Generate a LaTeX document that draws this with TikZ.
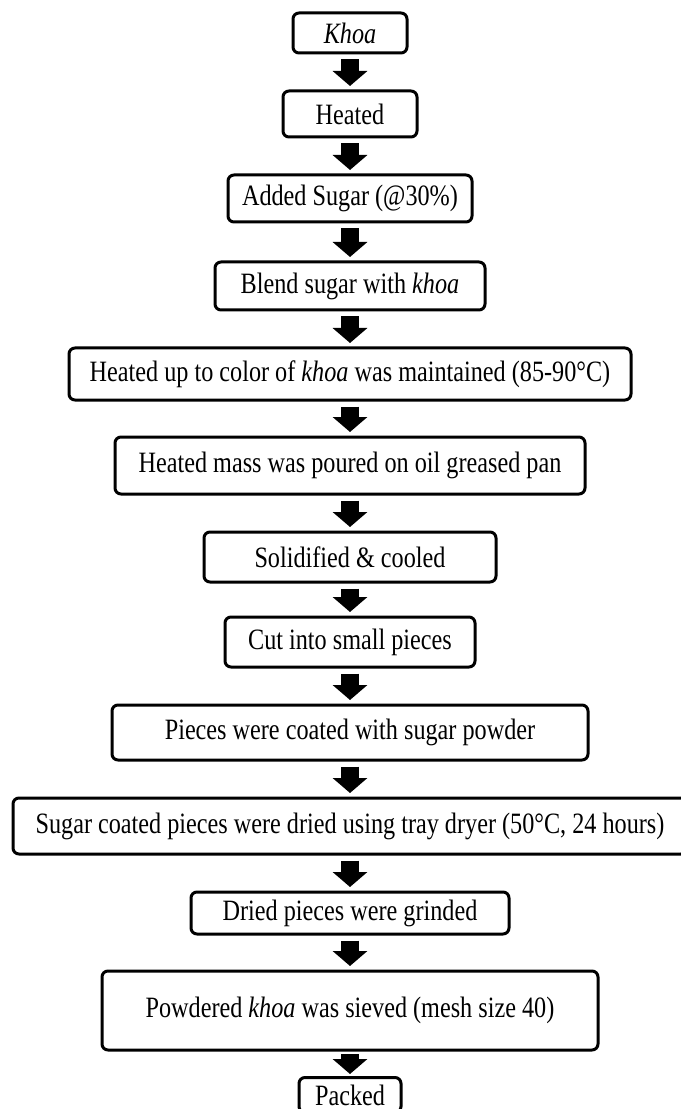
\documentclass[tikz,border=0pt]{standalone}
\usepackage{fontspec}
\setmainfont{Liberation Serif}[FakeStretch=0.82]
\usetikzlibrary{arrows.meta}

\begin{document}
\begin{tikzpicture}[
	stepbox/.style={rectangle,rounded corners=0.12cm,line width=0.06cm,draw=black,align=center,text centered,inner sep=0pt,font=\fontsize{16.8}{20}\selectfont},
	flow/.style={line width=0.36cm,-{Triangle[width=0.68cm,length=0.3cm]},shorten <=0.1cm,shorten >=0.07cm}
	]
					\useasboundingbox (0,0) rectangle (13.6,-22.18);
					\node (khoa)[stepbox,minimum width=2.28cm,minimum height=0.80cm] at (7,-0.66) {\textit{Khoa}};
					\node (heated)[stepbox,minimum width=2.68cm,minimum height=0.92cm] at (7,-2.28) {Heated};
					\node (sugar)[stepbox,minimum width=4.88cm,minimum height=0.94cm] at (7,-3.97) {Added Sugar (@30\%)};
					\node (blend)[stepbox,minimum width=5.40cm,minimum height=0.96cm] at (7,-5.72) {Blend sugar with \textit{khoa}};
					\node (colour)[stepbox,minimum width=11.24cm,minimum height=1.04cm] at (7,-7.48) {Heated up to color of \textit{khoa} was maintained (85-90°C)};
					\node (pour)[stepbox,minimum width=9.40cm,minimum height=1.14cm] at (7,-9.31) {Heated mass was poured on oil greased pan};
					\node (solid)[stepbox,minimum width=5.84cm,minimum height=1.00cm] at (7,-11.14) {Solidified \& cooled};
					\node (cut)[stepbox,minimum width=5.00cm,minimum height=1.00cm] at (7,-12.84) {Cut into small pieces};
					\node (coat)[stepbox,minimum width=9.52cm,minimum height=1.10cm] at (7,-14.65) {Pieces were coated with sugar powder};
					\node (dry)[stepbox,minimum width=13.48cm,minimum height=1.12cm] at (7,-16.52) {Sugar coated pieces were dried using tray dryer (50°C, 24 hours)};
					\node (grind)[stepbox,minimum width=6.36cm,minimum height=0.84cm] at (7,-18.26) {Dried pieces were grinded};
					\node (sieve)[stepbox,minimum width=9.92cm,minimum height=1.58cm] at (7,-20.21) {Powdered \textit{khoa} was sieved (mesh size 40)};
					\node (pack)[stepbox,minimum width=2.04cm,minimum height=0.70cm] at (7,-21.90) {Packed};
					\draw[flow] (khoa) -- (heated);
					\draw[flow] (heated) -- (sugar);
					\draw[flow] (sugar) -- (blend);
					\draw[flow] (blend) -- (colour);
					\draw[flow] (colour) -- (pour);
					\draw[flow] (pour) -- (solid);
					\draw[flow] (solid) -- (cut);
					\draw[flow] (cut) -- (coat);
					\draw[flow] (coat) -- (dry);
					\draw[flow] (dry) -- (grind);
					\draw[flow] (grind) -- (sieve);
					\draw[flow,shorten <=0.05cm,shorten >=0.04cm] (sieve) -- (pack);
				\end{tikzpicture}
\end{document}
